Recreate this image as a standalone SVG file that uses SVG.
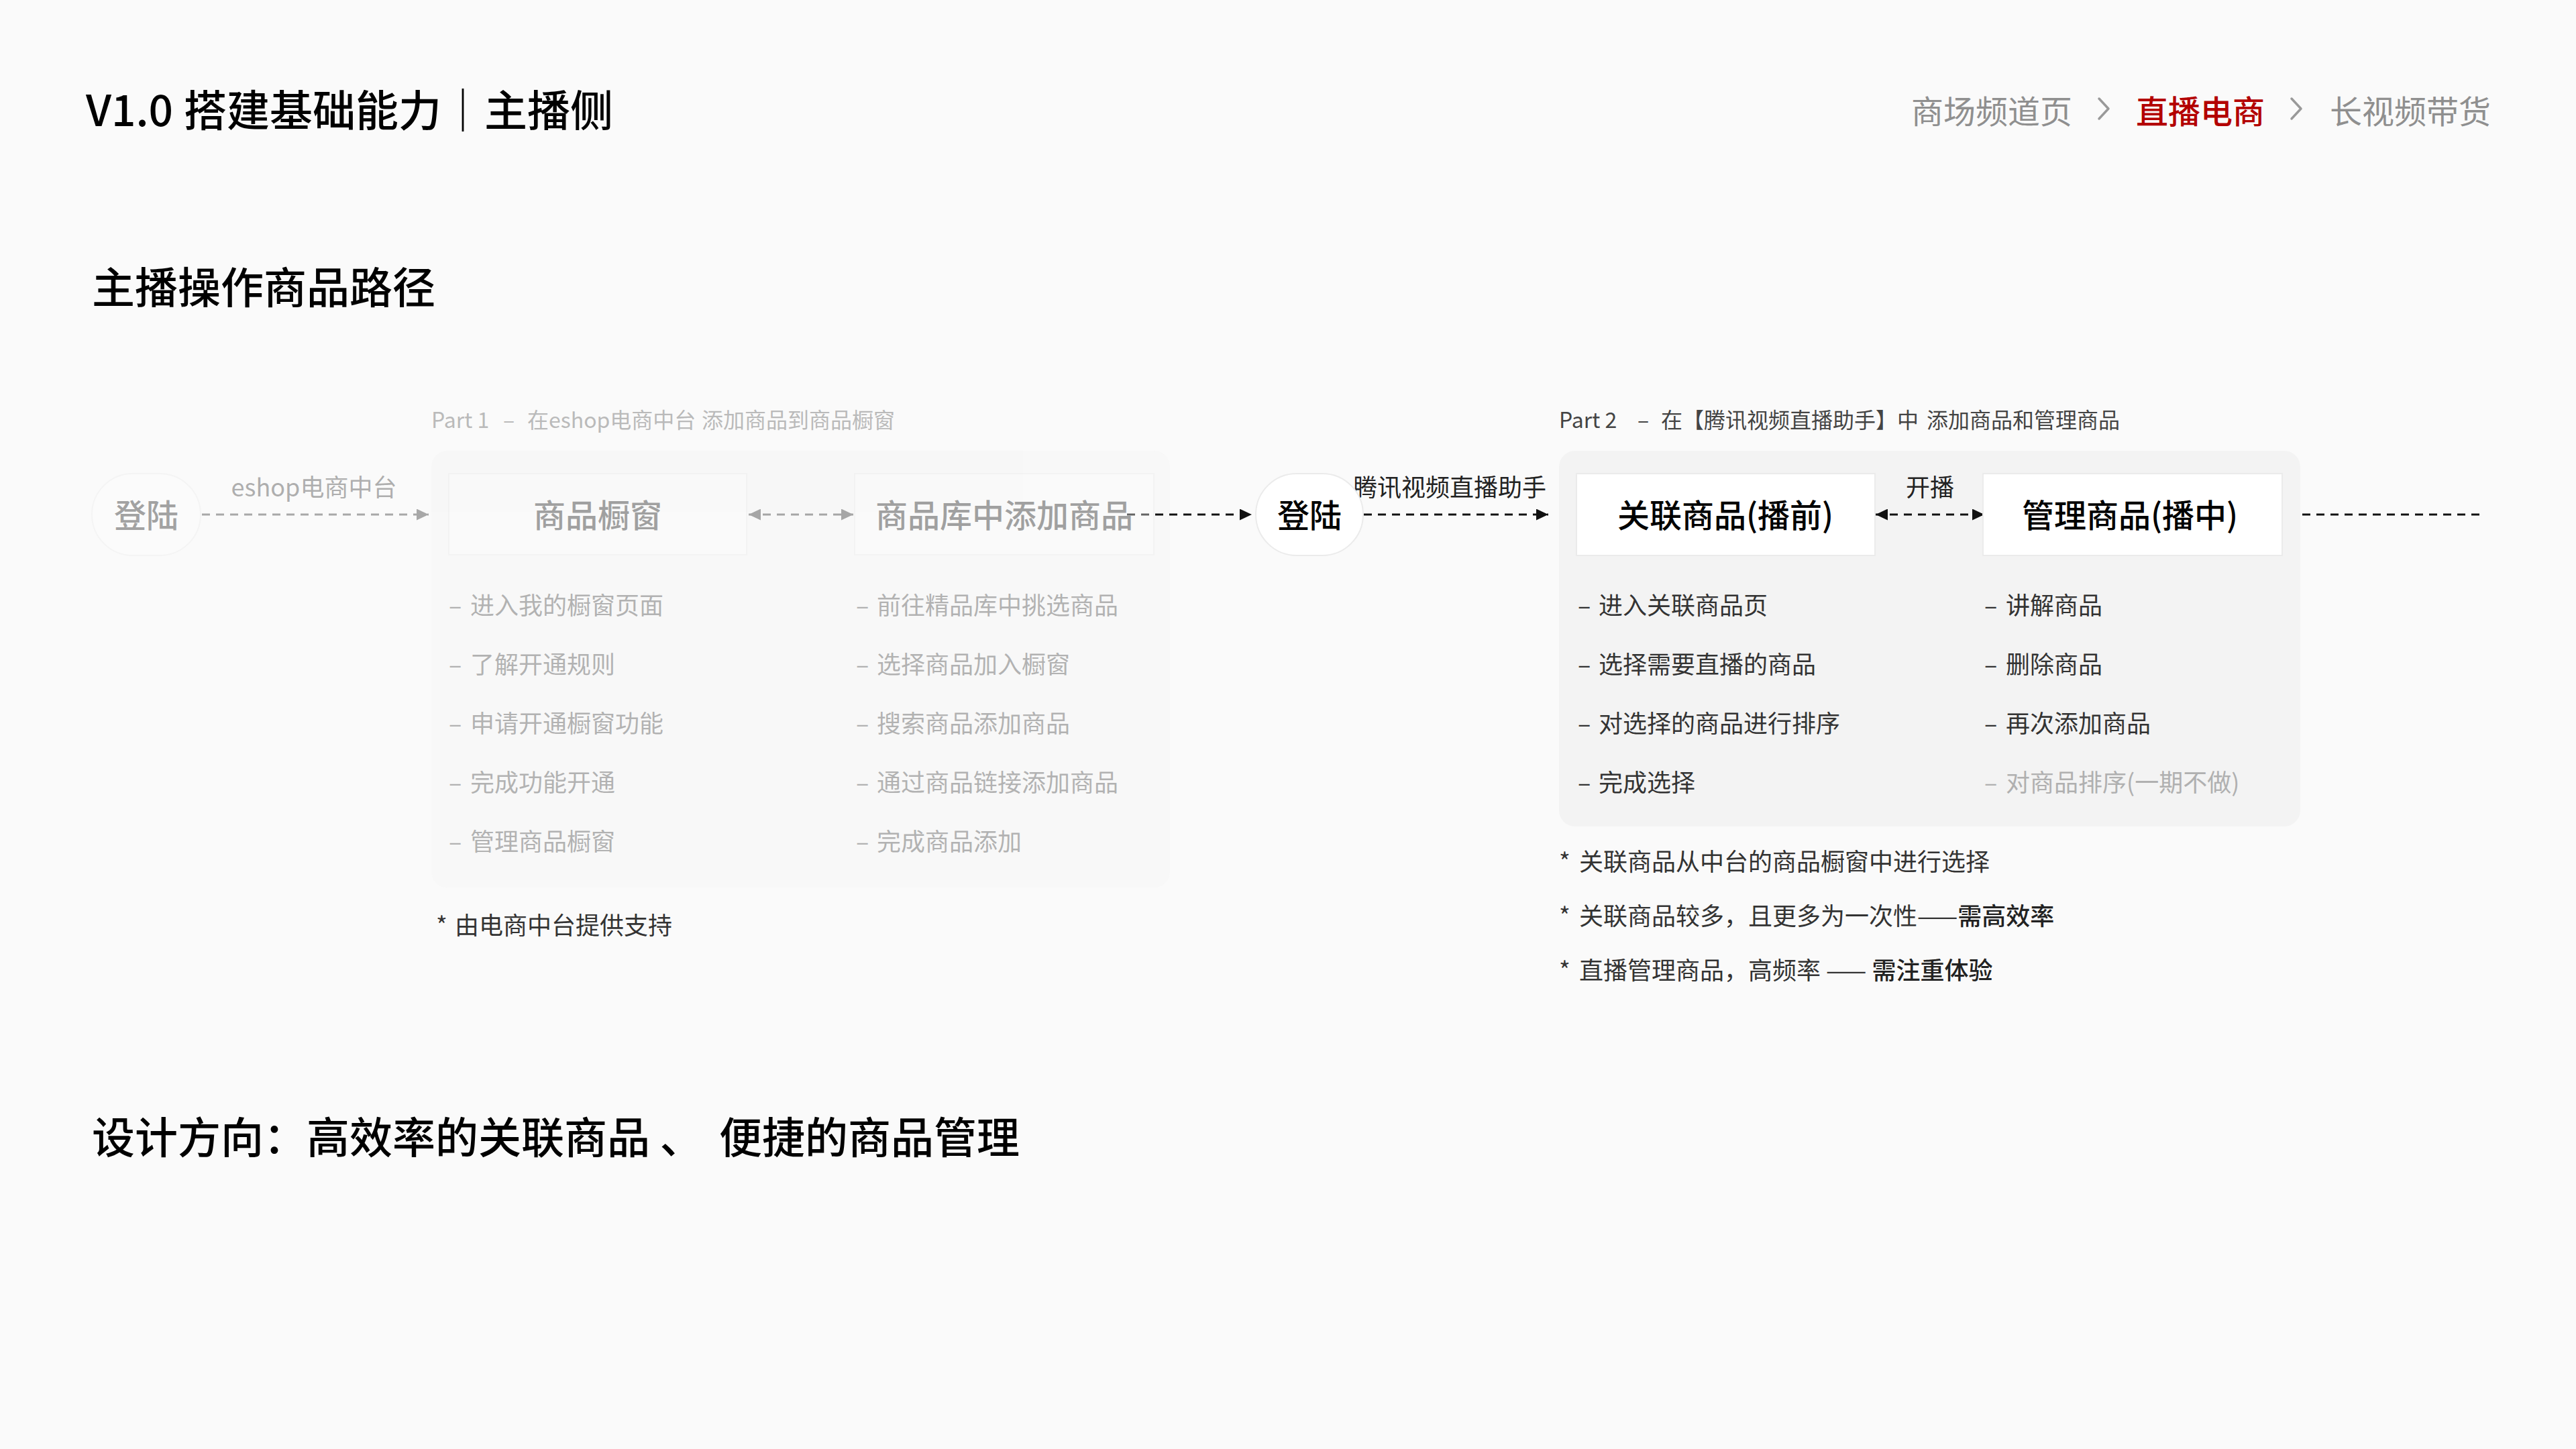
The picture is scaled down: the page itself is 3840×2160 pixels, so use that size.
<svg xmlns="http://www.w3.org/2000/svg" width="3840" height="2160" viewBox="0 0 3840 2160">
<defs>
<style>
text{font-family:"Noto Sans CJK SC","Noto Sans",sans-serif}
.h1{font-size:64px;font-weight:500;fill:#000}
.crumb{font-size:48px;fill:#8f8f8f}
.crumb-on{fill:#b30000;font-weight:500}
.chev{fill:none;stroke:#999;stroke-width:3.5;stroke-linecap:round;stroke-linejoin:round}
.part{font-size:32px;fill:#444}
.panel{fill:#f3f3f3}
.box{fill:#fff;stroke:#ebebeb;stroke-width:2}
.lbl{font-size:48px;font-weight:500;fill:#000;text-anchor:middle}
.item{font-size:36px;fill:#333}
.muted{fill:#b0b0b0}
.strong{font-weight:500;fill:#222}
.faded{opacity:.35}
.conn{fill:none;stroke:#111;stroke-width:3;stroke-dasharray:12 9}
.clbl{font-size:36px;fill:#222;text-anchor:middle}
</style>
<marker id="arr" viewBox="0 0 18 17" refX="18" refY="8.5" markerWidth="18" markerHeight="17" markerUnits="userSpaceOnUse" orient="auto-start-reverse">
<path d="M0,0 L18,8.5 L0,17 z" fill="#111"/>
</marker>
</defs>
<rect x="0" y="0" width="3840" height="2160" fill="#fafafa"/>

<g id="header">
<text class="h1" x="128" y="188">V1.0<tspan x="274">搭建基础能力｜主播侧</tspan></text>
<text class="crumb" x="2849" y="184">商场频道页</text>
<path class="chev" d="M3129,147 L3143,162 L3129,177"/>
<text class="crumb crumb-on" x="3184" y="184">直播电商</text>
<path class="chev" d="M3416,147 L3430,162 L3416,177"/>
<text class="crumb" x="3473" y="184">长视频带货</text>
<text class="h1" x="137" y="452">主播操作商品路径</text>
</g>

<g id="part1-panel" class="faded">
<rect class="panel" x="643" y="672" width="1101" height="651" rx="24"/>
<text class="part" y="638"><tspan x="643">Part 1</tspan><tspan x="750">–</tspan><tspan x="786">在eshop电商中台</tspan><tspan x="1046">添加商品到商品橱窗</tspan></text>
</g>
<g id="part2-panel">
<rect class="panel" x="2324" y="672" width="1105" height="560" rx="24"/>
<text class="part" y="638"><tspan x="2324">Part 2</tspan><tspan x="2441">–</tspan><tspan x="2476">在【腾讯视频直播助手】中</tspan><tspan x="2872">添加商品和管理商品</tspan></text>
</g>

<g id="connectors">
<g class="faded">
<path class="conn" d="M301,767 H639" marker-end="url(#arr)"/>
<text class="clbl" x="468" y="740">eshop电商中台</text>
<path class="conn" d="M1116,767 H1272" marker-start="url(#arr)" marker-end="url(#arr)"/>
</g>
<path class="conn" d="M1680,767 H1866" marker-end="url(#arr)"/>
<path class="conn" d="M2012,767 H2308" marker-end="url(#arr)"/>
<text class="clbl" x="2161" y="740">腾讯视频直播助手</text>
<path class="conn" d="M2796,767 H2958" marker-start="url(#arr)" marker-end="url(#arr)"/>
<text class="clbl" x="2877" y="740">开播</text>
<path class="conn" d="M3432,767 H3702"/>
</g>

<g id="node-login-eshop" class="faded">
<rect class="box" x="137" y="706" width="162" height="122" rx="61"/>
<text class="lbl" x="218" y="786">登陆</text>
</g>
<g id="node-shopwindow" class="faded">
<rect class="box" x="669" y="706" width="444" height="121"/>
<text class="lbl" x="891" y="786">商品橱窗</text>
</g>
<g id="node-library" class="faded">
<rect class="box" x="1274" y="706" width="446" height="121"/>
<text class="lbl" x="1497" y="786">商品库中添加商品</text>
</g>
<g id="node-login-tencent">
<rect class="box" x="1872" y="706" width="160" height="122" rx="61"/>
<text class="lbl" x="1952" y="786">登陆</text>
</g>
<g id="node-link-products">
<rect class="box" x="2350" y="706" width="445" height="122"/>
<text class="lbl" x="2572" y="786">关联商品(播前)</text>
</g>
<g id="node-manage-products">
<rect class="box" x="2956" y="706" width="446" height="122"/>
<text class="lbl" x="3175" y="786">管理商品(播中)</text>
</g>

<g id="part1-lists" class="faded">
<text class="item" y="916"><tspan x="669">–</tspan><tspan x="701">进入我的橱窗页面</tspan></text>
<text class="item" y="1004"><tspan x="669">–</tspan><tspan x="701">了解开通规则</tspan></text>
<text class="item" y="1092"><tspan x="669">–</tspan><tspan x="701">申请开通橱窗功能</tspan></text>
<text class="item" y="1180"><tspan x="669">–</tspan><tspan x="701">完成功能开通</tspan></text>
<text class="item" y="1268"><tspan x="669">–</tspan><tspan x="701">管理商品橱窗</tspan></text>
<text class="item" y="916"><tspan x="1276">–</tspan><tspan x="1307">前往精品库中挑选商品</tspan></text>
<text class="item" y="1004"><tspan x="1276">–</tspan><tspan x="1307">选择商品加入橱窗</tspan></text>
<text class="item" y="1092"><tspan x="1276">–</tspan><tspan x="1307">搜索商品添加商品</tspan></text>
<text class="item" y="1180"><tspan x="1276">–</tspan><tspan x="1307">通过商品链接添加商品</tspan></text>
<text class="item" y="1268"><tspan x="1276">–</tspan><tspan x="1307">完成商品添加</tspan></text>
</g>
<text id="part1-note" class="item" y="1393"><tspan x="650">*</tspan><tspan x="678">由电商中台提供支持</tspan></text>

<g id="part2-lists">
<text class="item" y="916"><tspan x="2352">–</tspan><tspan x="2383">进入关联商品页</tspan></text>
<text class="item" y="1004"><tspan x="2352">–</tspan><tspan x="2383">选择需要直播的商品</tspan></text>
<text class="item" y="1092"><tspan x="2352">–</tspan><tspan x="2383">对选择的商品进行排序</tspan></text>
<text class="item" y="1180"><tspan x="2352">–</tspan><tspan x="2383">完成选择</tspan></text>
<text class="item" y="916"><tspan x="2958">–</tspan><tspan x="2990">讲解商品</tspan></text>
<text class="item" y="1004"><tspan x="2958">–</tspan><tspan x="2990">删除商品</tspan></text>
<text class="item" y="1092"><tspan x="2958">–</tspan><tspan x="2990">再次添加商品</tspan></text>
<text class="item muted" y="1180"><tspan x="2958">–</tspan><tspan x="2990">对商品排序(一期不做)</tspan></text>
</g>
<g id="part2-notes">
<text class="item" y="1298"><tspan x="2324">*</tspan><tspan x="2354">关联商品从中台的商品橱窗中进行选择</tspan></text>
<text class="item" y="1379"><tspan x="2324">*</tspan><tspan x="2354">关联商品较多，且更多为一次性——</tspan><tspan class="strong">需高效率</tspan></text>
<text class="item" y="1460"><tspan x="2324">*</tspan><tspan x="2354">直播管理商品，高频率 —— </tspan><tspan class="strong">需注重体验</tspan></text>
</g>

<text id="conclusion" class="h1" x="137" y="1719">设计方向：高效率的关联商品 、<tspan x="1072">便捷的商品管理</tspan></text>
</svg>
